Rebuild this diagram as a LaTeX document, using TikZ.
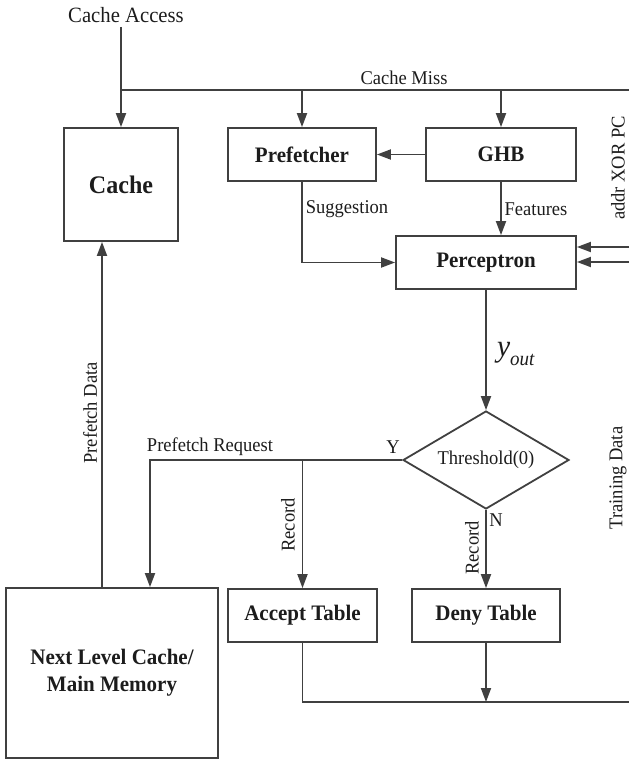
\documentclass[tikz,border=0pt]{standalone}
\usepackage{fontspec}
\setmainfont[FakeStretch=0.95]{Liberation Serif}
\usetikzlibrary{arrows.meta,shapes.geometric,calc}
\definecolor{ln}{HTML}{404040}
\definecolor{tx}{HTML}{1c1c1c}
\tikzset{
  blk/.style={draw=ln, line width=1.8pt, rectangle, inner sep=0pt, text=tx, font=\fontsize{22.1}{26}\selectfont\bfseries},
  lbl/.style={inner sep=0pt, text=tx, font=\fontsize{19.5}{23}\selectfont},
  wire/.style={draw=ln, line width=1.8pt},
  arr/.style={wire, -{Triangle[length=14pt,width=10pt]}},
}
\begin{document}
\begin{tikzpicture}[x=1pt,y=-1pt]
\useasboundingbox (0,0) rectangle (629,760);
% boxes
\node[blk, minimum width=114pt, minimum height=113pt, font=\fontsize{25.3}{30}\selectfont\bfseries] (cache) at (121,184.5) {Cache};
\node[blk, minimum width=148pt, minimum height=53pt] (prefetcher) at (302,154.5) {Prefetcher};
\node[blk, minimum width=150pt, minimum height=53pt] (ghb) at (501,154.5) {GHB};
\node[blk, minimum width=180pt, minimum height=53pt] (perceptron) at (486,262.5) {Perceptron};
\node[draw=ln, line width=1.8pt, diamond, aspect=1.694, inner sep=0pt, minimum width=166pt, minimum height=98pt, text=tx, font=\fontsize{19.5}{23}\selectfont] (thr) at (486,460) {Threshold(0)};
\node[blk, minimum width=149pt, minimum height=53pt] (accept) at (302.5,615.5) {Accept Table};
\node[blk, minimum width=148pt, minimum height=53pt] (deny) at (486,615.5) {Deny Table};
\node[blk, minimum width=212pt, minimum height=170pt, align=center, font=\fontsize{22.1}{27}\selectfont\bfseries] (nextlevel) at (112,673) {Next Level Cache/\\Main Memory};
% free-end coordinates
\coordinate (caTop) at (121,27);
\coordinate (cmL) at (121,90);
\coordinate (cmR) at (629,90);
\coordinate (in1) at (629,247);
\coordinate (in2) at (629,262);
\coordinate (trR) at (629,702);
% texts
\node[lbl, font=\fontsize{21.8}{25}\selectfont] (cacheacc) at (126,15) {Cache Access};
\node[lbl] (cmiss) at (404,78) {Cache Miss};
\node[lbl] (sugg) at (347,209) {Suggestion};
\node[lbl] (feat) at (536,209) {Features};
\node[lbl, rotate=90] (addr) at (618,168) {addr XOR PC};
\node[inner sep=0pt, text=tx] (yout) at (516,354) {\fontsize{31}{31}\selectfont\textit{y}\raisebox{-0.3em}{\fontsize{20}{20}\selectfont\textit{out}}};
\node[lbl] (preq) at (210,447) {Prefetch Request};
\node[lbl] (ylab) at (393,447) {Y};
\node[lbl] (nlab) at (496,520) {N};
\node[lbl, rotate=90] (rec1) at (288,525) {Record};
\node[lbl, rotate=90] (rec2) at (472,548) {Record};
\node[lbl, rotate=90] (pdata) at (90,413) {Prefetch Data};
\node[lbl, rotate=90] (tdata) at (618,478) {Training Data};
% connectors
\draw[arr] (caTop) -- (cache.north);
\draw[wire] (cmL) -- (cmR);
\draw[arr] (prefetcher.north |- cmL) -- (prefetcher.north);
\draw[arr] (ghb.north |- cmL) -- (ghb.north);
\draw[arr] (ghb.west) -- (prefetcher.east);
\draw[arr] (prefetcher.south) |- (perceptron.west);
\draw[arr] (ghb.south) -- (ghb.south |- perceptron.north);
\draw[arr] (in1) -- (in1 -| perceptron.east);
\draw[arr] (in2) -- (in2 -| perceptron.east);
\draw[arr] (perceptron.south) -- (thr.north);
\draw[arr] (thr.west) -| ([xshift=38pt]nextlevel.north);
\draw[arr] (accept.north |- thr.west) -- (accept.north);
\draw[arr] (thr.south) -- (deny.north);
\draw[arr] ([xshift=-10pt]nextlevel.north) -- ([xshift=-10pt]nextlevel.north |- cache.south);
\draw[wire] (accept.south) |- (trR);
\draw[arr] (deny.south) -- (deny.south |- trR);
\end{tikzpicture}
\end{document}
